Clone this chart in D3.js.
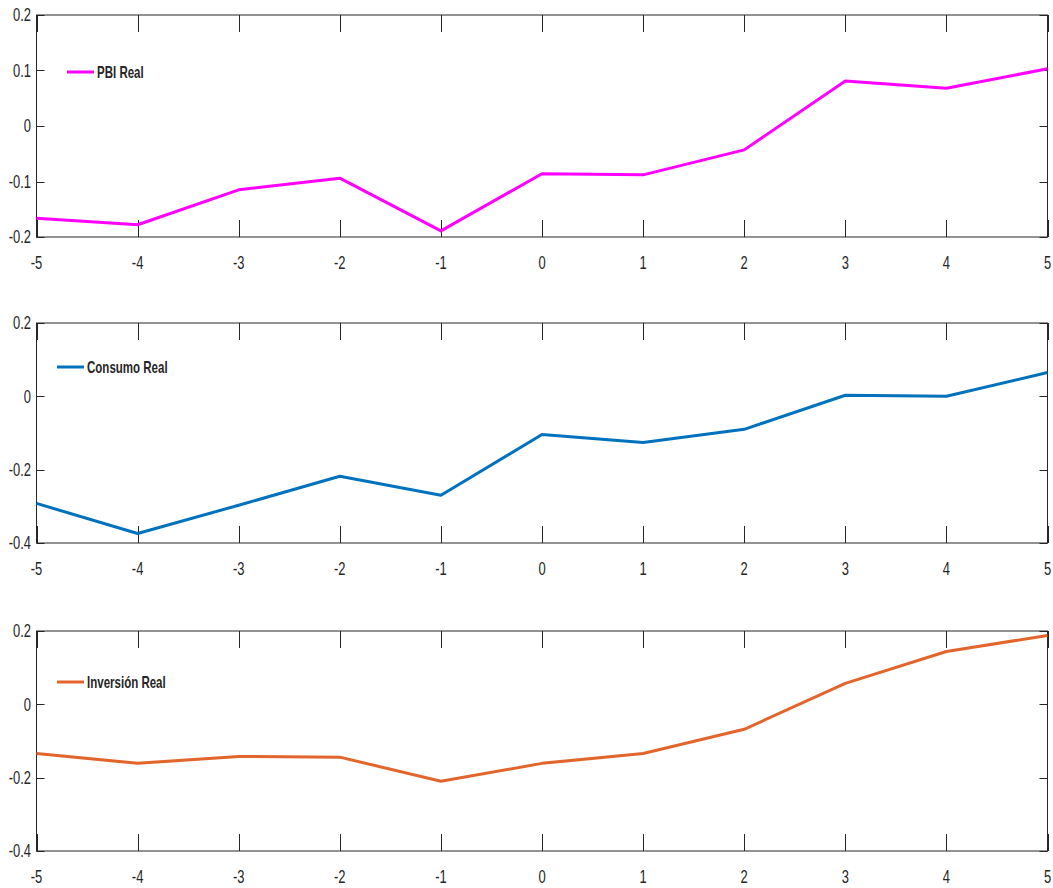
<!DOCTYPE html>
<html>
<head>
<meta charset="utf-8">
<script src="https://cdn.jsdelivr.net/npm/d3@7"></script>
<style>
  html, body { margin: 0; padding: 0; background: #fff; }
  svg { display: block; }
  text { font-family: "Liberation Sans", Arial, sans-serif; fill: #262626; }
</style>
</head>
<body>
<svg id="chart" width="1053" height="888"></svg>
<script>
// Horizon (periods relative to the event)
const periods = [-5, -4, -3, -2, -1, 0, 1, 2, 3, 4, 5];

// Responses by series
const pbiReal       = [-0.166, -0.178, -0.115, -0.094, -0.189, -0.086, -0.088, -0.043, 0.081, 0.068, 0.103];
const consumoReal   = [-0.292, -0.374, -0.297, -0.218, -0.270, -0.104, -0.126, -0.090, 0.003, 0.000, 0.065];
const inversionReal = [-0.134, -0.161, -0.142, -0.144, -0.210, -0.161, -0.134, -0.068, 0.057, 0.144, 0.188];

// Series names
const seriesNames = ["PBI Real", "Consumo Real", "Inversión Real"];

// Y tick values and labels per panel
const yTicksPbi = [-0.2, -0.1, 0, 0.1, 0.2];
const yLabelsPbi = ["-0.2", "-0.1", "0", "0.1", "0.2"];
const yTicksConsumo = [-0.4, -0.2, 0, 0.2];
const yLabelsConsumo = ["-0.4", "-0.2", "0", "0.2"];
const yTicksInversion = [-0.4, -0.2, 0, 0.2];
const yLabelsInversion = ["-0.4", "-0.2", "0", "0.2"];

// X tick labels
const xLabels = ["-5", "-4", "-3", "-2", "-1", "0", "1", "2", "3", "4", "5"];

const panels = [
  { name: seriesNames[0], values: pbiReal, yTicks: yTicksPbi, yLabels: yLabelsPbi, color: "#FF00FF",
    top: 15, bottom: 237, legend: { x: 67, y: 72 } },
  { name: seriesNames[1], values: consumoReal, yTicks: yTicksConsumo, yLabels: yLabelsConsumo, color: "#0072BD",
    top: 323, bottom: 543, legend: { x: 57, y: 367 } },
  { name: seriesNames[2], values: inversionReal, yTicks: yTicksInversion, yLabels: yLabelsInversion, color: "#E2652C",
    top: 631, bottom: 851, legend: { x: 57, y: 682 } }
];

const left = 36.5, right = 1047.5;
const squeeze = 0.72;
const axisColor = "#262626";
const svg = d3.select("#chart");

const x = d3.scaleLinear().domain(d3.extent(periods)).range([left, right]);

panels.forEach(p => {
  const y = d3.scaleLinear().domain(d3.extent(p.yTicks)).range([p.bottom, p.top]);
  const g = svg.append("g");

  // Axes box
  g.append("rect")
    .attr("x", left).attr("y", p.top)
    .attr("width", right - left).attr("height", p.bottom - p.top)
    .attr("fill", "none").attr("stroke", axisColor).attr("stroke-width", 1);

  // X ticks (inward, on bottom and top)
  periods.forEach((t, i) => {
    const xx = Math.round(x(t)) + 0.5;
    g.append("line").attr("x1", xx).attr("x2", xx)
      .attr("y1", p.bottom).attr("y2", p.bottom - 17)
      .attr("stroke", axisColor);
    g.append("line").attr("x1", xx).attr("x2", xx)
      .attr("y1", p.top).attr("y2", p.top + 17)
      .attr("stroke", axisColor);
    g.append("text")
      .attr("transform", `translate(${x(t)},${p.bottom + 26}) scale(${squeeze},1)`)
      .attr("text-anchor", "middle")
      .attr("dominant-baseline", "central")
      .style("font-size", "18px")
      .text(xLabels[i]);
  });

  // Y ticks (inward, on left and right)
  p.yTicks.forEach((v, i) => {
    const yy = Math.round(y(v)) + 0.5;
    g.append("line").attr("x1", left).attr("x2", left + 8)
      .attr("y1", yy).attr("y2", yy).attr("stroke", axisColor);
    g.append("line").attr("x1", right).attr("x2", right - 8)
      .attr("y1", yy).attr("y2", yy).attr("stroke", axisColor);
    g.append("text")
      .attr("transform", `translate(31,${y(v)}) scale(${squeeze},1)`)
      .attr("text-anchor", "end")
      .attr("dominant-baseline", "central")
      .style("font-size", "18px")
      .text(p.yLabels[i]);
  });

  // Series line
  const line = d3.line().x((d, i) => x(periods[i])).y(d => y(d));
  g.append("path")
    .datum(p.values)
    .attr("d", line)
    .attr("fill", "none")
    .attr("stroke", p.color)
    .attr("stroke-width", 3)
    .attr("stroke-linejoin", "round");

  // Legend
  g.append("line")
    .attr("x1", p.legend.x).attr("x2", p.legend.x + 27)
    .attr("y1", p.legend.y).attr("y2", p.legend.y)
    .attr("stroke", p.color).attr("stroke-width", 3);
  g.append("text")
    .attr("transform", `translate(${p.legend.x + 30},${p.legend.y}) scale(0.72,1)`)
    .attr("dominant-baseline", "central")
    .style("font-size", "16px")
    .style("font-weight", "bold")
    .text(p.name);
});
</script>
</body>
</html>
